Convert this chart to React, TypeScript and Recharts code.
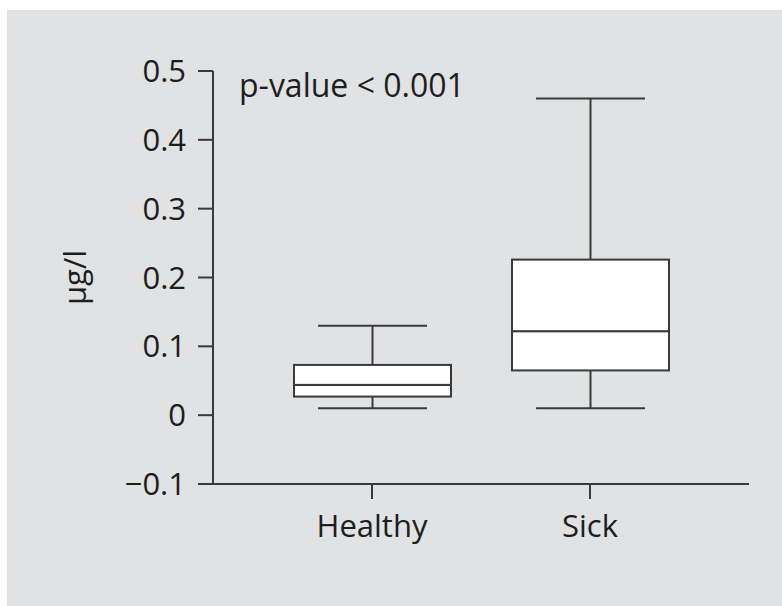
import React from 'react'
import { ComposedChart, Bar, XAxis, YAxis } from 'recharts'

const categories = ['Healthy', 'Sick']
const minValues = [0.01, 0.01]
const q1Values = [0.027, 0.065]
const medianValues = [0.044, 0.122]
const q3Values = [0.073, 0.226]
const maxValues = [0.13, 0.46]
const yTicks = [-0.1, 0, 0.1, 0.2, 0.3, 0.4, 0.5]

const INK = '#3a3a3a'
const TEXT = '#1e1e1e'
const FONT = "'Open Sans', sans-serif"
const CAP_RATIO = 0.694

// stacked pieces: invisible base up to min, then whisker, two box halves, whisker
const data = categories.map((name, i) => ({
  name,
  base: minValues[i],
  lowWhisker: q1Values[i] - minValues[i],
  lowBox: medianValues[i] - q1Values[i],
  highBox: q3Values[i] - medianValues[i],
  highWhisker: maxValues[i] - q3Values[i],
}))

const Empty = () => <g />

const BoxHalf = (props: any) => {
  const { x, y, width, height } = props
  return (
    <rect x={x} y={y} width={width} height={height} fill="#fff" stroke={INK} strokeWidth={2} />
  )
}

const LowWhisker = (props: any) => {
  const { x, y, width, height } = props
  const cx = x + width / 2
  const cap = (width * CAP_RATIO) / 2
  return (
    <g stroke={INK} strokeWidth={2}>
      <line x1={cx} x2={cx} y1={y} y2={y + height} />
      <line x1={cx - cap} x2={cx + cap} y1={y + height} y2={y + height} />
    </g>
  )
}

const HighWhisker = (props: any) => {
  const { x, y, width, height } = props
  const cx = x + width / 2
  const cap = (width * CAP_RATIO) / 2
  return (
    <g stroke={INK} strokeWidth={2}>
      <line x1={cx} x2={cx} y1={y} y2={y + height} />
      <line x1={cx - cap} x2={cx + cap} y1={y} y2={y} />
    </g>
  )
}

const formatTick = (v: number) => {
  if (Math.abs(v) < 1e-9) return '0'
  const s = Math.abs(v).toFixed(1)
  return v < 0 ? '\u2212' + s : s
}

const YLabel = (props: any) => {
  const { viewBox } = props
  const cy = viewBox.y + viewBox.height / 2
  return (
    <text
      x={74}
      y={cy}
      transform={`rotate(-90, 74, ${cy})`}
      textAnchor="middle"
      dominantBaseline="central"
      fontSize={31}
      fontFamily={FONT}
      fill={TEXT}
    >
      µg/l
    </text>
  )
}

export default function App() {
  return (
    <div
      style={{
        position: 'fixed',
        left: 0,
        top: 0,
        width: 782,
        height: 606,
        background: '#fff',
      }}
    >
      <div
        style={{
          position: 'absolute',
          left: 7,
          top: 10,
          width: 800,
          height: 620,
          background: '#e1e2e4',
        }}
      />
      <div style={{ position: 'absolute', left: 0, top: 0 }}>
        <ComposedChart
          width={782}
          height={606}
          data={data}
          margin={{ top: 71, right: 33, bottom: 62, left: 83 }}
          barSize={157}
        >
          <XAxis
            dataKey="name"
            type="category"
            padding={{ left: 50, right: 50 }}
            height={60}
            stroke={INK}
            strokeWidth={2}
            tickSize={15}
            tickMargin={16}
            tick={{ fontSize: 31, fill: TEXT, fontFamily: FONT }}
          />
          <YAxis
            type="number"
            domain={[-0.1, 0.5]}
            ticks={yTicks}
            width={130}
            stroke={INK}
            strokeWidth={2}
            tickSize={15}
            tickMargin={12}
            tickFormatter={formatTick}
            tick={{ fontSize: 31, fill: TEXT, fontFamily: FONT }}
            label={{ content: YLabel }}
            allowDataOverflow
          />
          <Bar dataKey="base" stackId="box" shape={Empty} isAnimationActive={false} />
          <Bar dataKey="lowWhisker" stackId="box" shape={LowWhisker} isAnimationActive={false} />
          <Bar dataKey="lowBox" stackId="box" shape={BoxHalf} isAnimationActive={false} />
          <Bar dataKey="highBox" stackId="box" shape={BoxHalf} isAnimationActive={false} />
          <Bar dataKey="highWhisker" stackId="box" shape={HighWhisker} isAnimationActive={false} />
          <text x={239} y={97} fontSize={32} fontFamily={FONT} fill={TEXT}>
            p-value &lt; 0.001
          </text>
        </ComposedChart>
      </div>
    </div>
  )
}
